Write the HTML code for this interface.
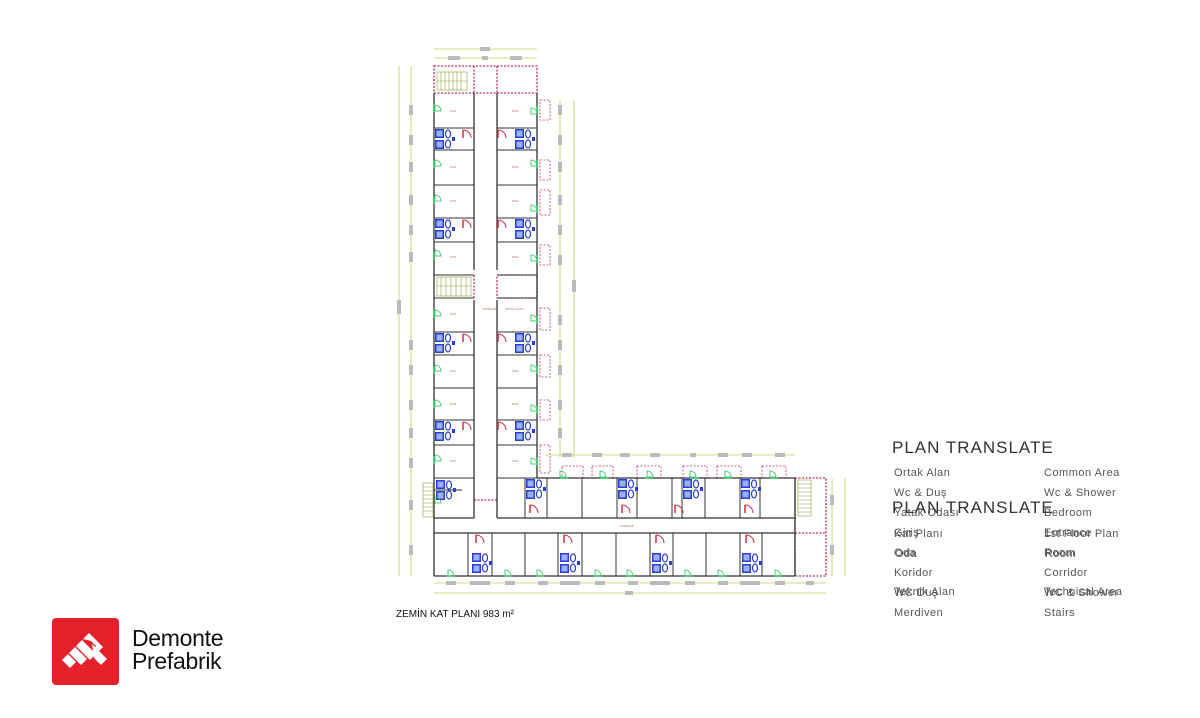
<!DOCTYPE html>
<html><head><meta charset="utf-8"><style>
html,body{margin:0;padding:0;background:#fff;}
body{width:1200px;height:718px;position:relative;overflow:hidden;font-family:"Liberation Sans",sans-serif;}
.t{position:absolute;font-size:11px;color:#555;white-space:nowrap;letter-spacing:.5px}
.h{position:absolute;font-size:17px;color:#333;letter-spacing:1px;white-space:nowrap}
</style></head><body>
<svg width="1200" height="718" style="position:absolute;left:0;top:0">
<defs>
<g id="wc">
<rect x="0" y="0" width="9" height="9" fill="#2a3fd6"/><rect x="0" y="11" width="9" height="9" fill="#2a3fd6"/>
<rect x="1.5" y="1.5" width="6" height="6" fill="#9ab0ff"/><rect x="1.5" y="12.5" width="6" height="6" fill="#9ab0ff"/>
<ellipse cx="13" cy="5" rx="2.5" ry="4" fill="none" stroke="#2a3fd6" stroke-width="1.2"/>
<ellipse cx="13" cy="15" rx="2.5" ry="4" fill="none" stroke="#2a3fd6" stroke-width="1.2"/>
<rect x="17" y="8" width="3" height="4" fill="#2a3fd6"/>
</g>
<g id="dr"><path d="M0 0 A8 8 0 0 1 8 8" fill="none" stroke="#d03040" stroke-width="1"/><line x1="0" y1="0" x2="0" y2="8" stroke="#d03040" stroke-width="1.5"/></g>
<g id="gd"><path d="M0 0 A6 6 0 0 1 6 6 L0 6 Z" fill="none" stroke="#22bb55" stroke-width="0.8"/></g>
</defs>
<g stroke="#c8d050" stroke-width="0.8" fill="none">
<line x1="434" y1="49" x2="537" y2="49"/><line x1="434" y1="58" x2="537" y2="58"/>
<line x1="399" y1="66" x2="399" y2="576"/><line x1="411" y1="66" x2="411" y2="576"/>
<line x1="560" y1="100" x2="560" y2="458"/><line x1="574" y1="100" x2="574" y2="458"/>
<line x1="545" y1="455" x2="795" y2="455"/>
<line x1="434" y1="583" x2="826" y2="583"/><line x1="434" y1="593" x2="826" y2="593"/>
<line x1="832" y1="478" x2="832" y2="576"/><line x1="845" y1="478" x2="845" y2="576"/>
</g>
<g fill="#bbb">
<rect x="480" y="47" width="10" height="4"/><rect x="448" y="56" width="12" height="4"/><rect x="482" y="56" width="6" height="4"/><rect x="510" y="56" width="12" height="4"/>
<rect x="397" y="300" width="4" height="14"/>
<rect x="409" y="105" width="4" height="10"/><rect x="409" y="135" width="4" height="10"/><rect x="409" y="162" width="4" height="10"/><rect x="409" y="195" width="4" height="10"/><rect x="409" y="225" width="4" height="10"/><rect x="409" y="252" width="4" height="10"/><rect x="409" y="340" width="4" height="10"/><rect x="409" y="365" width="4" height="10"/><rect x="409" y="400" width="4" height="10"/><rect x="409" y="428" width="4" height="10"/><rect x="409" y="458" width="4" height="10"/><rect x="409" y="500" width="4" height="10"/><rect x="409" y="545" width="4" height="10"/>
<rect x="558" y="105" width="4" height="10"/><rect x="558" y="135" width="4" height="10"/><rect x="558" y="162" width="4" height="10"/><rect x="558" y="195" width="4" height="10"/><rect x="558" y="225" width="4" height="10"/><rect x="558" y="255" width="4" height="10"/><rect x="558" y="315" width="4" height="10"/><rect x="558" y="340" width="4" height="10"/><rect x="558" y="365" width="4" height="10"/><rect x="558" y="400" width="4" height="10"/><rect x="558" y="428" width="4" height="10"/>
<rect x="572" y="280" width="4" height="12"/>
<rect x="562" y="453" width="10" height="4"/><rect x="592" y="453" width="10" height="4"/><rect x="620" y="453" width="10" height="4"/><rect x="650" y="453" width="10" height="4"/><rect x="690" y="453" width="6" height="4"/><rect x="718" y="453" width="10" height="4"/><rect x="742" y="453" width="10" height="4"/><rect x="775" y="453" width="10" height="4"/>
<rect x="446" y="581" width="10" height="4"/><rect x="470" y="581" width="20" height="4"/><rect x="505" y="581" width="10" height="4"/><rect x="538" y="581" width="10" height="4"/><rect x="560" y="581" width="20" height="4"/><rect x="595" y="581" width="10" height="4"/><rect x="628" y="581" width="10" height="4"/><rect x="650" y="581" width="20" height="4"/><rect x="685" y="581" width="10" height="4"/><rect x="718" y="581" width="10" height="4"/><rect x="740" y="581" width="20" height="4"/><rect x="775" y="581" width="10" height="4"/><rect x="806" y="581" width="8" height="4"/>
<rect x="625" y="591" width="8" height="4"/>
<rect x="830" y="495" width="4" height="10"/><rect x="830" y="545" width="4" height="10"/>
</g>
<g stroke="#c0305a" stroke-width="1.3" fill="none" stroke-dasharray="2 1.5">
<rect x="434" y="66" width="103" height="27"/>
<rect x="795" y="478" width="31" height="98"/>
<line x1="795" y1="533" x2="826" y2="533"/>
<line x1="474" y1="66" x2="474" y2="93"/><line x1="497" y1="66" x2="497" y2="93"/>
<rect x="497" y="275" width="40" height="23"/>
<line x1="474" y1="298" x2="474" y2="275"/>
<line x1="474" y1="500" x2="497" y2="500"/>
</g>
<g stroke="#c0305a" stroke-width="0.8" fill="none" stroke-dasharray="2 1.5">
<rect x="540" y="100" width="10" height="20"/><rect x="540" y="160" width="10" height="20"/>
<rect x="540" y="190" width="10" height="25"/><rect x="540" y="245" width="10" height="20"/>
<rect x="540" y="308" width="10" height="22"/><rect x="540" y="355" width="10" height="22"/>
<rect x="540" y="400" width="10" height="20"/><rect x="540" y="445" width="10" height="28"/>
<rect x="562" y="466" width="21" height="12"/><rect x="592" y="466" width="21" height="12"/>
<rect x="637" y="466" width="24" height="12"/><rect x="683" y="466" width="24" height="12"/>
<rect x="717" y="466" width="24" height="12"/><rect x="762" y="466" width="24" height="12"/>
</g>
<g stroke="#333" stroke-width="1.3" fill="none">
<line x1="434" y1="93" x2="434" y2="576"/>
<line x1="474" y1="93" x2="474" y2="270"/><line x1="474" y1="300" x2="474" y2="478"/><line x1="474" y1="478" x2="474" y2="518"/>
<line x1="497" y1="93" x2="497" y2="270"/><line x1="497" y1="300" x2="497" y2="518"/>
<line x1="537" y1="93" x2="537" y2="478"/>
<line x1="537" y1="478" x2="795" y2="478"/>
<line x1="497" y1="518" x2="795" y2="518"/>
<line x1="434" y1="533" x2="795" y2="533"/>
<line x1="434" y1="576" x2="795" y2="576"/>
<line x1="795" y1="478" x2="795" y2="576"/>
<line x1="434" y1="518" x2="474" y2="518"/>
</g>
<g stroke="#333" stroke-width="1" fill="none">
<path d="M434 128H474M434 150H474M434 185H474M434 218H474M434 242H474M434 275H474M434 298H474M434 332H474M434 355H474M434 388H474M434 420H474M434 445H474M434 478H474M434 490H462"/>
<path d="M497 128H537M497 150H537M497 185H537M497 218H537M497 242H537M497 275H537M497 298H537M497 332H537M497 355H537M497 388H537M497 420H537M497 445H537M497 478H537"/>
<path d="M525 478V518M547 478V518M582 478V518M617 478V518M637 478V518M672 478V518M682 478V518M705 478V518M740 478V518M760 478V518"/>
<path d="M468 533V576M492 533V576M525 533V576M558 533V576M582 533V576M616 533V576M650 533V576M673 533V576M706 533V576M740 533V576M762 533V576"/>
</g>
<g stroke="#8aa040" stroke-width="0.6" fill="none">
<rect x="437" y="72" width="30" height="18"/>
<path d="M441 72V90M445 72V90M449 72V90M453 72V90M457 72V90M461 72V90M437 81H467"/>
<rect x="437" y="277" width="34" height="19"/>
<path d="M441 277V296M446 277V296M451 277V296M456 277V296M461 277V296M466 277V296M437 286H471"/>
<rect x="423" y="483" width="10" height="34"/>
<path d="M423 487H433M423 491H433M423 495H433M423 499H433M423 503H433M423 507H433M423 511H433"/>
<rect x="798" y="480" width="13" height="36"/>
<path d="M798 484H811M798 488H811M798 492H811M798 496H811M798 500H811M798 504H811M798 508H811M798 512H811"/>
</g>
<use href="#wc" x="435" y="129"/><use href="#wc" x="515" y="129"/>
<use href="#wc" x="435" y="219"/><use href="#wc" x="515" y="219"/>
<use href="#wc" x="435" y="333"/><use href="#wc" x="515" y="333"/>
<use href="#wc" x="435" y="421"/><use href="#wc" x="515" y="421"/>
<use href="#wc" x="436" y="480"/>
<use href="#wc" x="526" y="479"/><use href="#wc" x="618" y="479"/><use href="#wc" x="683" y="479"/><use href="#wc" x="741" y="479"/>
<use href="#wc" x="472" y="553"/><use href="#wc" x="560" y="553"/><use href="#wc" x="652" y="553"/><use href="#wc" x="742" y="553"/>
<g>
<use href="#dr" x="463" y="130"/><use href="#dr" x="463" y="220"/><use href="#dr" x="463" y="334"/><use href="#dr" x="463" y="422"/>
<use href="#dr" x="498" y="130"/><use href="#dr" x="498" y="220"/><use href="#dr" x="498" y="334"/><use href="#dr" x="498" y="422"/>
<use href="#dr" x="530" y="505"/><use href="#dr" x="622" y="505"/><use href="#dr" x="675" y="505"/><use href="#dr" x="745" y="505"/>
<use href="#dr" x="476" y="535"/><use href="#dr" x="564" y="535"/><use href="#dr" x="656" y="535"/><use href="#dr" x="746" y="535"/>
</g>
<g>
<use href="#gd" x="435" y="105"/><use href="#gd" x="435" y="160"/><use href="#gd" x="435" y="195"/><use href="#gd" x="435" y="250"/>
<use href="#gd" x="435" y="310"/><use href="#gd" x="435" y="365"/><use href="#gd" x="435" y="400"/><use href="#gd" x="435" y="455"/><use href="#gd" x="435" y="497"/>
<use href="#gd" x="531" y="108"/><use href="#gd" x="531" y="160"/><use href="#gd" x="531" y="205"/><use href="#gd" x="531" y="255"/>
<use href="#gd" x="531" y="315"/><use href="#gd" x="531" y="365"/><use href="#gd" x="531" y="405"/><use href="#gd" x="531" y="458"/>
<use href="#gd" x="560" y="471"/><use href="#gd" x="600" y="471"/><use href="#gd" x="647" y="471"/><use href="#gd" x="690" y="471"/><use href="#gd" x="725" y="471"/><use href="#gd" x="770" y="471"/>
<use href="#gd" x="448" y="570"/><use href="#gd" x="505" y="570"/><use href="#gd" x="537" y="570"/><use href="#gd" x="595" y="570"/><use href="#gd" x="627" y="570"/><use href="#gd" x="685" y="570"/><use href="#gd" x="718" y="570"/><use href="#gd" x="775" y="570"/>
</g>
<g stroke="#33cc66" stroke-width="1.6">
<path d="M434 104V112M434 160V168M434 196V204M434 252V260M434 310V318M434 366V374M434 400V408M434 456V464M537 106V114M537 160V168M537 205V213M537 255V263M537 316V324M537 366V374M537 406V414M537 458V466M560 478H568M600 478H608M645 478H653M690 478H698M724 478H732M770 478H778M446 576H454M504 576H512M536 576H544M594 576H602M626 576H634M684 576H692M718 576H726M774 576H782"/>
</g>
<g font-family="Liberation Sans" font-size="3" fill="#b07050">
<text x="450" y="112">ODA</text><text x="512" y="112">ODA</text><text x="450" y="168">ODA</text><text x="512" y="168">ODA</text>
<text x="450" y="202">ODA</text><text x="512" y="202">ODA</text><text x="450" y="258">ODA</text><text x="512" y="258">ODA</text>
<text x="450" y="315">ODA</text><text x="482" y="310">KORIDOR</text><text x="505" y="310">ORTAK ALAN</text><text x="450" y="372">ODA</text><text x="512" y="372">ODA</text>
<text x="450" y="405">ODA</text><text x="512" y="405">ODA</text><text x="450" y="462">ODA</text><text x="512" y="462">ODA</text>
<text x="620" y="527">KORIDOR</text>
</g>
</svg>
<div style="position:absolute;left:396px;top:609px;font-size:10px;color:#111">ZEMİN KAT PLANI 983 m²</div>
<div class="h" style="left:892px;top:438px">PLAN TRANSLATE</div>
<div class="h" style="left:892px;top:498px">PLAN TRANSLATE</div>
<div class="t" style="left:894px;top:467px">Ortak Alan</div><div class="t" style="left:1044px;top:467px">Common Area</div>
<div class="t" style="left:894px;top:487px">Wc &amp; Duş</div><div class="t" style="left:1044px;top:487px">Wc &amp; Shower</div>
<div class="t" style="left:894px;top:507px">Yatak Odası</div><div class="t" style="left:1044px;top:507px">Bedroom</div>
<div class="t" style="left:894px;top:527px">Giriş</div><div class="t" style="left:1044px;top:527px">Entrance</div>
<div class="t" style="left:894px;top:528px">Kat Planı</div><div class="t" style="left:1044px;top:528px">1st Floor Plan</div>
<div class="t" style="left:894px;top:547px">Oda</div><div class="t" style="left:1044px;top:547px">Room</div>
<div class="t" style="left:895px;top:548px">Oda</div><div class="t" style="left:1045px;top:548px">Room</div>
<div class="t" style="left:894px;top:567px">Koridor</div><div class="t" style="left:1044px;top:567px">Corridor</div>
<div class="t" style="left:894px;top:586px">Teknik Alan</div><div class="t" style="left:1044px;top:586px">Technical Area</div>
<div class="t" style="left:894px;top:587px">WC Duş</div><div class="t" style="left:1044px;top:587px">WC &amp; Shower</div>
<div class="t" style="left:894px;top:607px">Merdiven</div><div class="t" style="left:1044px;top:607px">Stairs</div>
<div style="position:absolute;left:52px;top:618px;width:67px;height:67px;background:#e5202a;border-radius:4px">
<svg width="67" height="67"><g fill="#fff">
<polygon points="10,42 16,36 24,44 18,50"/>
<polygon points="17,35 23,29 35,41 29,47"/>
<polygon points="24,28 30,22 44,36 38,42"/>
<polygon points="31,21 37,15 51,29 45,35 41,31 44,28 39,23"/>
<polygon points="40,26 48,34 55,41 49,47 42,40"/>
</g></svg></div>
<div style="position:absolute;left:132px;top:627px;font-size:23px;line-height:23px;color:#111;letter-spacing:-0.3px">Demonte<br>Prefabrik</div>
</body></html>
